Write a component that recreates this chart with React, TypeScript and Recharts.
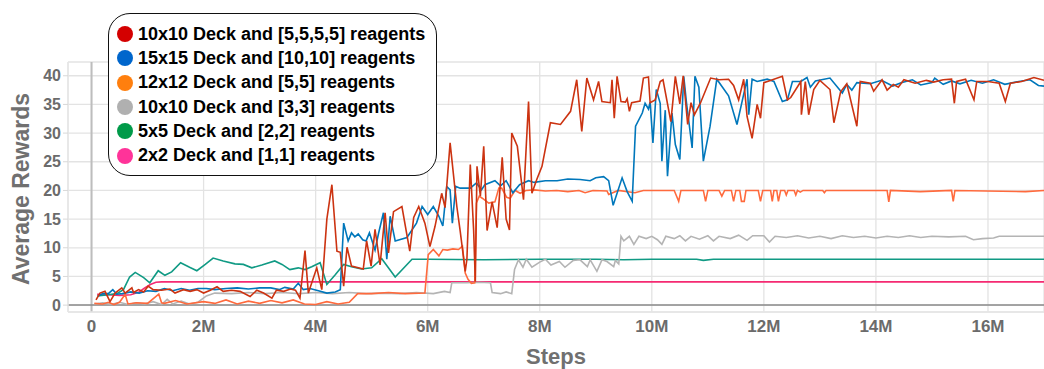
import React from 'react';
import { LineChart, Line, XAxis, YAxis, CartesianGrid, Legend, ReferenceLine, Label } from 'recharts';

type Pt = [number, number];

// steps are in millions, values are average rewards
const red: Pt[] = [
  [0.08, 0.9], [0.15, 2.1], [0.24, 2.4], [0.33, 0.6], [0.42, 2.1], [0.54, 3.0], [0.6, 2.1], [0.72, 3.0], [0.75, 2.2],
  [0.84, 2.7], [0.93, 2.3], [1.01, 3.3], [1.1, 2.7], [1.25, 2.6], [1.4, 2.8], [1.49, 2.1], [1.64, 2.7], [1.76, 2.4],
  [1.88, 2.7], [2.0, 2.1], [2.12, 2.6], [2.24, 3.2], [2.35, 2.4], [2.5, 2.6], [2.65, 2.4], [2.83, 1.5], [2.95, 2.6],
  [3.07, 2.1], [3.22, 1.2], [3.3, 2.6], [3.43, 2.4], [3.55, 2.8], [3.64, 2.6], [3.72, 1.2], [3.81, 9.5], [3.87, 2.1],
  [4.02, 6.5], [4.11, 2.7], [4.2, 15.0], [4.29, 21.0], [4.38, 9.4], [4.44, 9.2], [4.5, 3.3], [4.56, 10.1], [4.64, 6.8],
  [4.85, 6.3], [4.91, 11.2], [4.99, 6.8], [5.06, 13.2], [5.15, 7.0], [5.24, 16.1], [5.3, 9.1], [5.39, 16.3], [5.54, 17.2],
  [5.68, 9.4], [5.75, 15.3], [5.84, 17.2], [5.95, 14.3], [6.04, 10.2], [6.13, 13.7], [6.25, 19.5], [6.31, 17.0],
  [6.4, 28.3], [6.52, 17.2], [6.58, 12.9], [6.67, 5.9], [6.7, 8.0], [6.76, 24.5], [6.82, 13.0], [6.85, 4.1], [6.88, 24.2],
  [6.94, 19.0], [7.0, 27.7], [7.06, 13.0], [7.15, 18.0], [7.24, 13.5], [7.33, 25.8], [7.4, 15.0], [7.46, 13.1],
  [7.5, 30.0], [7.6, 27.7], [7.71, 18.4], [7.8, 35.5], [7.86, 19.5], [7.95, 22.0], [8.04, 24.2], [8.19, 31.8],
  [8.37, 31.5], [8.55, 33.8], [8.66, 39.3], [8.75, 30.3], [8.84, 39.6], [8.96, 35.8], [9.05, 39.0], [9.11, 35.5],
  [9.26, 35.3], [9.29, 39.3], [9.33, 32.6], [9.38, 39.9], [9.45, 35.5], [9.53, 35.4], [9.56, 36.0], [9.6, 33.8],
  [9.64, 35.3], [9.79, 35.6], [9.85, 39.6], [9.94, 39.8], [9.97, 35.3], [10.06, 35.8], [10.15, 39.0], [10.2, 39.3],
  [10.34, 32.0], [10.42, 39.9], [10.5, 35.1], [10.56, 40.0], [10.64, 31.5], [10.7, 35.3], [10.76, 33.2], [10.87, 35.3],
  [11.05, 39.6], [11.2, 39.3], [11.37, 39.4], [11.46, 38.3], [11.55, 35.8], [11.64, 39.4], [11.7, 32.9], [11.79, 29.1],
  [11.88, 35.0], [11.94, 32.6], [12.0, 38.8], [12.09, 39.1], [12.33, 39.9], [12.42, 35.8], [12.48, 36.2], [12.66, 39.0],
  [12.67, 33.2], [12.74, 39.0], [12.8, 33.2], [12.89, 37.6], [13.0, 39.2], [13.18, 37.6], [13.25, 31.8], [13.37, 37.2],
  [13.48, 38.6], [13.66, 31.2], [13.72, 39.0], [13.9, 38.7], [13.96, 37.3], [14.11, 39.3], [14.2, 37.5], [14.31, 38.5],
  [14.4, 38.0], [14.5, 39.3], [14.7, 38.7], [14.9, 39.2], [15.03, 38.9], [15.2, 39.3], [15.35, 39.4], [15.4, 35.2],
  [15.44, 39.0], [15.6, 39.4], [15.75, 35.8], [15.8, 39.0], [16.0, 39.0], [16.2, 38.7], [16.31, 35.5], [16.4, 38.7],
  [16.6, 39.0], [16.82, 39.7], [17.0, 39.2],
];

const blue: Pt[] = [
  [0.12, 1.6], [0.2, 2.0], [0.3, 2.0], [0.38, 2.7], [0.45, 1.9], [0.55, 2.0], [0.7, 2.3], [0.85, 2.1], [1.0, 2.5],
  [1.15, 2.4], [1.3, 2.9], [1.45, 2.5], [1.6, 2.9], [1.75, 2.6], [1.9, 2.9], [2.05, 2.9], [2.2, 2.7], [2.4, 2.9],
  [2.6, 3.0], [2.8, 2.8], [3.0, 3.0], [3.2, 3.0], [3.35, 2.7], [3.45, 3.1], [3.6, 2.8], [3.69, 3.8], [3.78, 2.7],
  [3.9, 2.9], [4.05, 2.5], [4.2, 2.1], [4.35, 2.3], [4.44, 2.7], [4.5, 14.3], [4.58, 11.2], [4.64, 12.6], [4.7, 11.9],
  [4.76, 12.4], [4.84, 11.4], [4.9, 11.2], [4.96, 12.6], [5.06, 9.6], [5.12, 12.4], [5.21, 16.1], [5.27, 8.0],
  [5.33, 15.5], [5.42, 11.2], [5.63, 11.8], [5.8, 14.3], [5.9, 17.2], [6.0, 15.8], [6.1, 17.2], [6.2, 15.5],
  [6.27, 13.8], [6.34, 20.7], [6.4, 20.1], [6.44, 14.3], [6.5, 20.7], [6.58, 20.4], [6.76, 20.4], [6.87, 21.3],
  [6.96, 20.1], [7.02, 21.0], [7.2, 21.7], [7.3, 20.8], [7.4, 21.7], [7.52, 19.6], [7.64, 21.0], [7.8, 21.7],
  [7.9, 21.4], [8.1, 21.7], [8.31, 21.7], [8.5, 22.0], [8.72, 21.9], [8.9, 21.7], [9.0, 22.2], [9.14, 22.4],
  [9.23, 21.7], [9.31, 17.4], [9.47, 22.2], [9.56, 19.8], [9.65, 18.1], [9.71, 31.2], [9.83, 33.5], [9.88, 35.2],
  [9.94, 34.2], [9.97, 35.4], [10.02, 28.3], [10.08, 37.6], [10.15, 35.2], [10.18, 25.1], [10.24, 34.0], [10.28, 22.5],
  [10.36, 33.5], [10.42, 28.0], [10.5, 25.4], [10.57, 39.9], [10.62, 35.2], [10.72, 27.4], [10.77, 39.9], [10.84, 38.0],
  [10.92, 25.1], [11.04, 31.2], [11.16, 39.4], [11.37, 36.5], [11.52, 31.5], [11.6, 35.0], [11.7, 39.4], [11.73, 33.2],
  [11.79, 39.4], [11.88, 39.0], [12.06, 39.4], [12.18, 39.0], [12.33, 35.5], [12.42, 35.8], [12.51, 39.0], [12.66, 39.0],
  [12.77, 39.7], [12.83, 38.0], [12.92, 39.1], [13.18, 39.6], [13.4, 37.0], [13.48, 38.5], [13.57, 37.5], [13.66, 38.8],
  [13.9, 38.6], [14.1, 39.2], [14.3, 38.2], [14.45, 38.8], [14.65, 39.3], [14.8, 38.4], [15.0, 38.8], [15.05, 39.6],
  [15.2, 38.5], [15.35, 39.1], [15.5, 38.6], [15.7, 39.2], [15.9, 38.7], [16.1, 39.3], [16.3, 38.5], [16.55, 39.0],
  [16.75, 39.3], [16.9, 38.3], [17.0, 38.2],
];

const orange: Pt[] = [
  [0.05, 0.3], [0.2, 0.2], [0.3, 0.5], [0.4, 0.1], [0.5, 0.5], [0.6, 1.9], [0.65, 0.2], [0.8, 0.4], [1.0, 0.3],
  [1.2, 1.9], [1.25, 0.4], [1.3, 0.3], [1.5, 0.8], [1.7, 0.2], [2.0, 0.6], [2.2, 0.3], [2.4, 0.9], [2.6, 0.2],
  [2.8, 0.7], [3.0, 0.3], [3.2, 0.8], [3.4, 0.4], [3.6, 0.9], [3.8, 0.2], [4.0, 0.1], [4.2, 0.6], [4.4, 0.2],
  [4.6, 0.5], [4.75, 2.0], [5.0, 2.0], [5.3, 2.2], [5.6, 2.0], [5.95, 2.1], [6.01, 8.8], [6.1, 9.7], [6.2, 8.6],
  [6.27, 9.7], [6.35, 9.6], [6.45, 9.8], [6.55, 9.7], [6.62, 10.3], [6.67, 5.6], [6.72, 4.5], [6.78, 3.8], [6.84, 3.9],
  [6.87, 17.8], [6.92, 19.0], [6.98, 18.6], [7.09, 17.8], [7.2, 18.0], [7.27, 20.4], [7.32, 20.4], [7.41, 18.8],
  [7.47, 18.6], [7.56, 20.0], [7.65, 19.5], [7.75, 20.0], [7.9, 20.1], [8.1, 19.9], [8.3, 20.0], [8.5, 19.8],
  [8.7, 20.0], [8.81, 19.6], [8.95, 20.0], [9.2, 19.9], [9.23, 19.3], [9.4, 20.0], [9.7, 19.6], [9.85, 20.0],
  [10.4, 20.0], [10.48, 18.1], [10.52, 20.0], [10.92, 20.0], [10.96, 18.1], [11.0, 20.0], [11.2, 20.0], [11.25, 19.0],
  [11.3, 20.0], [11.42, 20.0], [11.46, 18.1], [11.5, 20.0], [11.57, 20.0], [11.6, 18.1], [11.65, 18.1], [11.68, 20.0],
  [11.9, 20.0], [11.94, 18.1], [11.98, 20.0], [12.12, 20.0], [12.15, 18.1], [12.18, 20.0], [12.23, 20.0], [12.26, 18.1],
  [12.3, 20.0], [12.37, 20.0], [12.4, 19.2], [12.43, 20.0], [12.54, 20.0], [12.57, 19.2], [12.6, 20.0], [12.65, 19.7],
  [12.7, 20.0], [13.05, 20.0], [13.08, 19.6], [13.11, 20.0], [14.2, 20.0], [14.23, 18.0], [14.26, 20.0], [14.79, 19.8],
  [15.35, 20.0], [15.38, 18.1], [15.41, 20.0], [16.67, 19.8], [17.0, 20.0],
];

const gray: Pt[] = [
  [0.05, 0.2], [0.2, 0.4], [0.35, 0.1], [0.5, 0.5], [0.65, 0.1], [0.8, 0.4], [0.95, 0.2], [1.1, 0.6], [1.25, 0.1],
  [1.35, 1.0], [1.45, 0.2], [1.6, 0.7], [1.75, 0.2], [1.9, 0.5], [2.05, 1.6], [2.2, 2.1], [2.5, 2.0], [2.8, 2.2],
  [3.1, 2.0], [3.4, 2.2], [3.7, 2.0], [4.0, 2.2], [4.3, 2.0], [4.6, 2.2], [4.9, 2.0], [5.2, 2.1], [5.5, 2.0],
  [5.8, 2.2], [6.1, 2.0], [6.3, 2.4], [6.4, 2.2], [6.43, 3.9], [6.7, 3.9], [6.9, 4.0], [7.12, 3.9], [7.15, 2.2],
  [7.3, 2.0], [7.4, 2.3], [7.5, 2.0], [7.55, 6.2], [7.62, 7.9], [7.7, 6.6], [7.76, 8.0], [7.86, 6.6], [8.0, 7.5],
  [8.1, 8.0], [8.2, 7.0], [8.35, 7.6], [8.45, 6.6], [8.6, 7.8], [8.72, 7.9], [8.85, 6.7], [8.9, 7.9], [9.02, 5.9],
  [9.11, 7.9], [9.2, 7.6], [9.32, 6.7], [9.35, 7.8], [9.41, 7.2], [9.45, 12.0], [9.5, 11.2], [9.6, 12.0], [9.68, 10.6],
  [9.77, 12.0], [9.9, 11.6], [10.0, 12.0], [10.1, 11.4], [10.18, 10.6], [10.25, 12.0], [10.4, 11.6], [10.5, 12.1],
  [10.6, 11.2], [10.7, 12.0], [10.85, 11.5], [11.0, 12.1], [11.1, 11.2], [11.2, 12.0], [11.4, 11.6], [11.55, 12.2],
  [11.7, 11.3], [11.8, 12.1], [12.0, 12.1], [12.1, 11.0], [12.2, 12.0], [12.4, 11.8], [12.6, 12.1], [12.8, 11.7],
  [13.0, 12.0], [13.2, 11.6], [13.4, 12.1], [13.6, 11.8], [13.8, 12.0], [14.0, 11.7], [14.2, 12.0], [14.4, 11.8],
  [14.6, 12.1], [14.8, 11.8], [15.0, 12.0], [15.3, 11.9], [15.6, 12.0], [15.74, 11.4], [15.9, 11.6], [16.1, 11.7],
  [16.2, 12.0], [16.5, 12.0], [17.0, 12.0],
];

const green: Pt[] = [
  [0.1, 1.6], [0.3, 1.8], [0.45, 2.0], [0.57, 2.7], [0.68, 4.9], [0.78, 5.7], [0.93, 4.8], [1.04, 3.9], [1.19, 6.0],
  [1.31, 5.2], [1.43, 5.8], [1.59, 7.4], [1.75, 6.6], [1.88, 6.0], [2.03, 7.1], [2.17, 8.2], [2.35, 7.7], [2.56, 7.2],
  [2.71, 7.1], [2.86, 6.5], [3.04, 7.0], [3.27, 7.7], [3.4, 7.1], [3.54, 6.2], [3.69, 6.5], [3.81, 6.2], [3.93, 6.7],
  [4.08, 7.4], [4.2, 3.6], [4.35, 5.3], [4.5, 7.1], [4.64, 6.7], [4.82, 6.3], [5.0, 6.5], [5.18, 8.1], [5.42, 4.9],
  [5.72, 8.0], [6.0, 8.0], [7.0, 7.9], [8.0, 8.0], [9.0, 8.0], [9.5, 7.9], [10.0, 8.0], [10.8, 8.0], [10.92, 7.8],
  [11.1, 8.0], [17.0, 8.0],
];

const pink: Pt[] = [
  [0.1, 1.9], [0.3, 1.8], [0.5, 1.7], [0.7, 1.8], [0.85, 2.3], [0.95, 3.0], [1.05, 3.6], [1.15, 4.0], [1.25, 4.05],
  [17.0, 4.05],
];

const seriesNames = [
  '10x10 Deck and [5,5,5,5] reagents',
  '15x15 Deck and [10,10] reagents',
  '12x12 Deck and [5,5] reagents',
  '10x10 Deck and [3,3] reagents',
  '5x5 Deck and [2,2] reagents',
  '2x2 Deck and [1,1] reagents',
];
const seriesPoints = [red, blue, orange, gray, green, pink];
const lineColors = ['#cc3311', '#0077bb', '#ff6a3d', '#b4b4b4', '#109a84', '#f52a72'];
const legendColors = ['#d40000', '#0066cc', '#ff7f0e', '#b0b0b0', '#009a49', '#ff3399'];

const xTicks = [0, 2, 4, 6, 8, 10, 12, 14, 16];
const yTicks = [0, 5, 10, 15, 20, 25, 30, 35, 40];

const font = '"Liberation Sans", Arial, sans-serif';

const series = seriesNames.map((name, i) => ({
  name,
  line: lineColors[i],
  dot: legendColors[i],
  data: seriesPoints[i].map(([s, v]) => ({ s, v })),
}));

const LegendBox = () => (
  <div
    style={{
      border: '1.2px solid #111',
      borderRadius: 22,
      background: '#fff',
      padding: '8px 6px 7px 8px',
      boxSizing: 'border-box',
      width: 329,
      height: 163,
      fontFamily: font,
    }}
  >
    {series.map((s) => (
      <div key={s.name} style={{ display: 'flex', alignItems: 'center', height: 24.3 }}>
        <span
          style={{
            width: 16,
            height: 16,
            borderRadius: '50%',
            background: s.dot,
            marginRight: 5,
            flex: 'none',
          }}
        />
        <span style={{ fontSize: 18, fontWeight: 'bold', color: '#000', whiteSpace: 'nowrap' }}>{s.name}</span>
      </div>
    ))}
  </div>
);

export default function App() {
  return (
    <div style={{ position: 'absolute', left: 0, top: 0, width: 1044, height: 369, background: '#fff' }}>
      <LineChart width={1044} height={369} margin={{ top: 62, right: 0, bottom: 27, left: 28 }}>
        <CartesianGrid stroke="#e3e3e3" strokeWidth={1.3} />
        <XAxis
          dataKey="s"
          type="number"
          domain={[-0.42, 17.0]}
          allowDataOverflow
          ticks={xTicks}
          tickFormatter={(v: number) => (v === 0 ? '0' : `${v}M`)}
          tick={{ fill: '#6b6b6b', fontSize: 17, fontWeight: 'bold', fontFamily: font }}
          tickLine={false}
          axisLine={{ stroke: '#e6e6e6', strokeWidth: 1.5 }}
          height={30}
        >
          <Label
            content={() => (
              <text x={556} y={364} textAnchor="middle" fill="#707070" fontSize={22} fontWeight="bold" fontFamily={font}>
                Steps
              </text>
            )}
          />
        </XAxis>
        <YAxis
          type="number"
          domain={[-1.2, 42.4]}
          allowDataOverflow
          ticks={yTicks}
          tick={{ fill: '#6b6b6b', fontSize: 16, fontWeight: 'bold', fontFamily: font }}
          tickLine={{ stroke: '#d8d8d8' }}
          tickSize={5}
          axisLine={{ stroke: '#e6e6e6', strokeWidth: 1.5 }}
          width={40}
        >
          <Label
            content={() => (
              <text
                x={0}
                y={0}
                transform="translate(29 189) rotate(-90)"
                textAnchor="middle"
                fill="#707070"
                fontSize={23}
                fontWeight="bold"
                fontFamily={font}
              >
                Average Rewards
              </text>
            )}
          />
        </YAxis>
        <ReferenceLine x={0} stroke="#bdbdbd" strokeWidth={2} />
        <ReferenceLine y={0} stroke="#8a8a8a" strokeWidth={1.5} />
        {series
          .slice()
          .reverse()
          .map((s) => (
            <Line
              key={s.name}
              data={s.data}
              dataKey="v"
              name={s.name}
              type="linear"
              stroke={s.line}
              strokeWidth={1.6}
              dot={false}
              activeDot={false}
              isAnimationActive={false}
            />
          ))}
        <Legend
          layout="vertical"
          align="center"
          verticalAlign="middle"
          content={() => <LegendBox />}
          wrapperStyle={{ left: 108, top: 13, width: 329, height: 163 }}
        />
      </LineChart>
    </div>
  );
}
